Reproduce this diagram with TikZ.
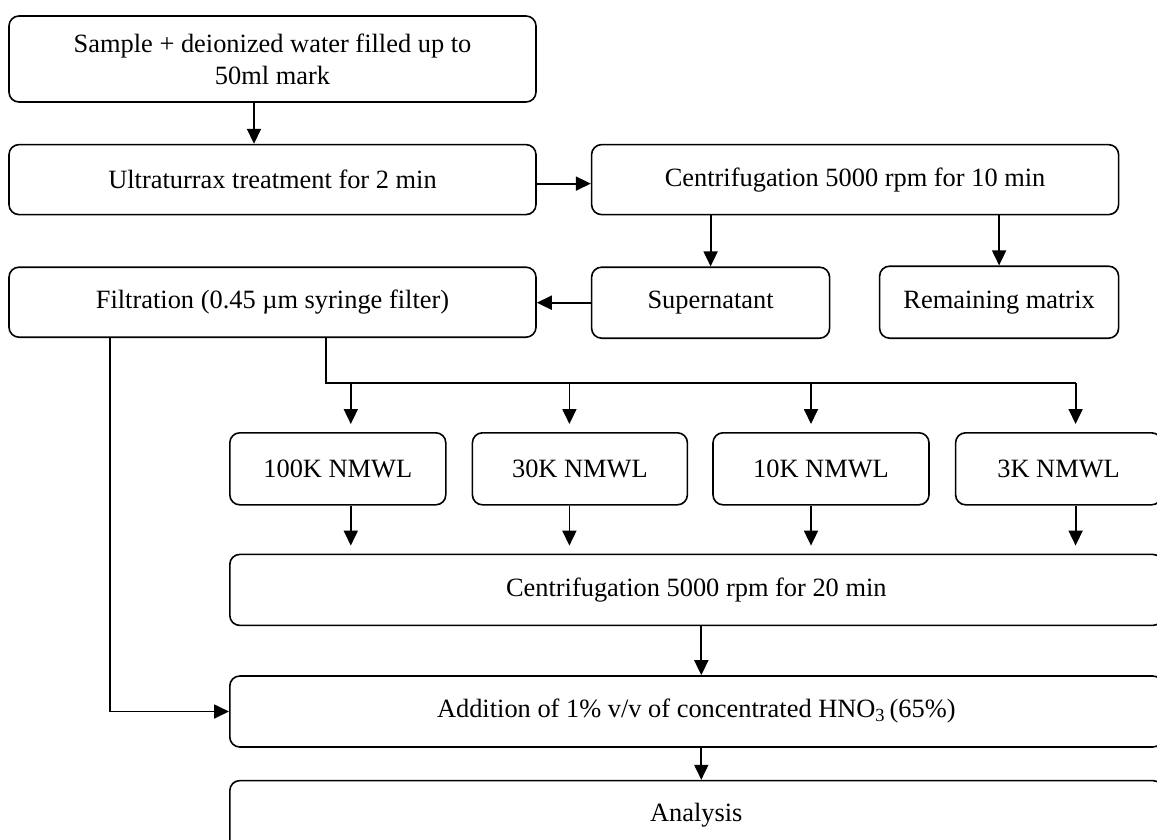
\documentclass[tikz,border=0pt]{standalone}
\usepackage{fontspec}
\setmainfont{Liberation Serif}
\usepackage{tikz}
\usetikzlibrary{arrows.meta,shapes,positioning,calc}
\tikzstyle{process} = [rectangle, rounded corners=10pt, draw=black, line width=1.6pt, align=center, inner sep=0pt, font=\fontsize{26.4}{32}\selectfont]
\tikzstyle{arrow} = [line width=1.8pt, ->, >={Triangle[length=15pt,width=14pt]}]
\tikzstyle{line} = [line width=1.8pt]

\begin{document}
\begin{tikzpicture}
\useasboundingbox (0,0) rectangle (1157pt,-839pt);

\node[process, minimum width=527pt, minimum height=86pt] (sample) at (272.5pt,-59pt) {Sample + deionized water filled up to\\50ml mark};
\node[process, minimum width=527pt, minimum height=70pt, below=41pt of sample] (ultra) {Ultraturrax treatment for 2 min};
\node[process, minimum width=527pt, minimum height=70pt, right=54pt of ultra] (cent1) {Centrifugation 5000 rpm for 10 min};
\node[process, minimum width=527pt, minimum height=70pt, below=51pt of ultra] (filt) {Filtration (0.45 µm syringe filter)};
\node[process, minimum width=238pt, minimum height=71pt, below right=51pt and 0pt of cent1.south west] (super) {Supernatant};
\node[process, minimum width=239pt, minimum height=72pt, below left=50pt and 0pt of cent1.south east] (remain) {Remaining matrix};

% membrane filters
\node[process, minimum width=216pt, minimum height=72pt, anchor=north west] (k100) at (229pt,-432pt) {100K NMWL};
\node[process, minimum width=215pt, minimum height=72pt, right=25pt of k100] (k30) {30K NMWL};
\node[process, minimum width=216pt, minimum height=72pt, right=24pt of k30] (k10) {10K NMWL};
\node[process, minimum width=206pt, minimum height=72pt, right=25pt of k10] (k3) {3K NMWL};

\node[process, minimum width=933pt, minimum height=71pt, below right=48pt and 0pt of k100.south west] (cent2) {Centrifugation 5000 rpm for 20 min};
\node[process, minimum width=933pt, minimum height=71pt, below=49pt of cent2] (add) {Addition of 1\% v/v of concentrated HNO\textsubscript{3}\,(65\%)};
\node[process, minimum width=933pt, minimum height=70pt, below=32pt of add] (anal) {Analysis};

\draw[arrow] ([xshift=-18.5pt]sample.south) -- ([xshift=-18.5pt]ultra.north);
\draw[arrow] ([yshift=-4pt]ultra.east) -- ([yshift=-4pt]cent1.west);
\draw[arrow] (cent1.south -| super.north) -- (super.north);
\draw[arrow] (cent1.south -| remain.north) -- (remain.north);
\draw[arrow] (super.west) -- (super.west -| filt.east);

\coordinate (busend) at ([xshift=17pt,yshift=49pt]k3.north);
\draw[line] ([xshift=53.5pt]filt.south) |- (busend);
\foreach \n/\dx in {k100/13, k30/-10.5, k10/-10, k3/17} {
  \draw[arrow] ([xshift=\dx pt,yshift=49pt]\n.north) -- ([xshift=\dx pt,yshift=8pt]\n.north);
  \draw[arrow] ([xshift=\dx pt]\n.south) -- ([xshift=\dx pt,yshift=-40pt]\n.south);
}

\draw[arrow] ([xshift=5pt]cent2.south) -- ([xshift=5pt]add.north);
\draw[arrow] ([xshift=5pt]add.south) -- ([xshift=5pt]anal.north);
\draw[arrow] ([xshift=-162.5pt]filt.south) |- (add.west);
\end{tikzpicture}
\end{document}
